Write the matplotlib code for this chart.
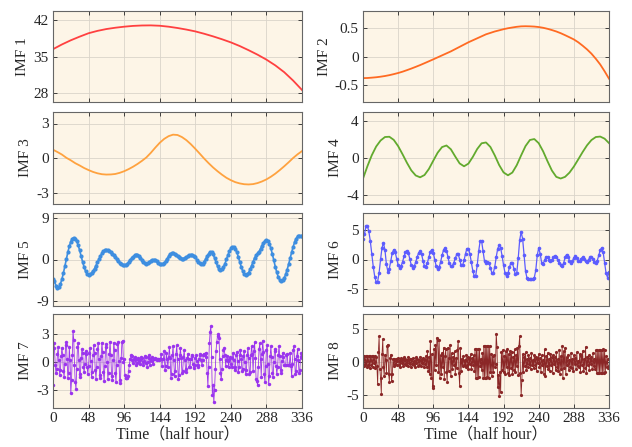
import numpy as np
import matplotlib
matplotlib.use("Agg")
import matplotlib.pyplot as plt

# ---------------- data ----------------
t12 = list(range(0, 337, 12))
imf1 = [36.4, 37.3, 38.1, 38.8, 39.45, 39.9, 40.25, 40.5, 40.7, 40.85, 40.93, 40.95,
        40.88, 40.7, 40.45, 40.15, 39.8, 39.35, 38.85, 38.3, 37.7, 37.0, 36.2, 35.35,
        34.4, 33.3, 32.0, 30.4, 28.6]

t6 = list(range(0, 337, 6))
imf2 = [-0.38, -0.378, -0.372, -0.365, -0.355, -0.343, -0.328, -0.31, -0.29, -0.267,
        -0.24, -0.212, -0.182, -0.151, -0.118, -0.084, -0.05, -0.015, 0.02, 0.055,
        0.09, 0.13, 0.17, 0.21, 0.25, 0.285, 0.32, 0.355, 0.39, 0.415,
        0.44, 0.46, 0.48, 0.497, 0.51, 0.522, 0.53, 0.532, 0.53, 0.526,
        0.518, 0.505, 0.487, 0.465, 0.44, 0.41, 0.375, 0.338, 0.30, 0.25,
        0.19, 0.125, 0.05, -0.04, -0.14, -0.26, -0.39]
imf3 = [0.72, 0.52, 0.3, 0.02, -0.2, -0.45, -0.65, -0.87, -1.05, -1.21,
        -1.33, -1.41, -1.44, -1.43, -1.39, -1.29, -1.15, -0.97, -0.76, -0.52,
        -0.25, 0.05, 0.45, 0.9, 1.32, 1.66, 1.9, 2.03, 2.0, 1.82,
        1.55, 1.2, 0.8, 0.38, -0.05, -0.45, -0.82, -1.15, -1.45, -1.72,
        -1.93, -2.1, -2.21, -2.28, -2.3, -2.27, -2.18, -2.04, -1.86, -1.63,
        -1.36, -1.05, -0.72, -0.37, 0.0, 0.32, 0.6]
imf4 = [-2.24, -0.9, 0.3, 1.25, 1.9, 2.28, 2.31, 1.97, 1.29, 0.41, -0.52, -1.35,
        -1.90, -2.1, -1.85, -1.19, -0.29, 0.58, 1.19, 1.36, 0.95, 0.16, -0.59, -0.9,
        -0.61, 0.12, 0.98, 1.6, 1.69, 1.20, 0.28, -0.77, -1.57, -1.88, -1.58, -0.78,
        0.29, 1.30, 1.96, 2.06, 1.61, 0.73, -0.35, -1.36, -2.05, -2.23, -2.05, -1.59,
        -0.93, -0.15, 0.65, 1.38, 1.95, 2.28, 2.33, 2.1, 1.62]

t2 = list(range(0, 337, 2))
imf5 = [-4.2, -4.68, -5.63, -6.1, -5.88, -5.26, -4.23, -2.94, -1.46, 0.06, 1.54, 2.83,
        3.86, 4.48, 4.7, 4.51, 3.94, 3.05, 1.94, 0.7, -0.54, -1.65, -2.54, -3.11,
        -3.3, -3.21, -2.94, -2.51, -1.95, -1.30, -0.6, 0.10, 0.75, 1.31, 1.74, 2.01,
        2.1, 2.04, 1.88, 1.62, 1.28, 0.88, 0.45, 0.02, -0.38, -0.72, -0.98, -1.14,
        -1.2, -1.12, -0.91, -0.58, -0.17, 0.24, 0.61, 0.89, 1.04, 1.03, 0.82, 0.43,
        -0.04, -0.47, -0.79, -0.9, -0.79, -0.53, -0.22, -0.03, -0.02, -0.15, -0.39, -0.67,
        -0.91, -1.04, -1.03, -0.79, -0.37, 0.17, 0.71, 1.13, 1.37, 1.38, 1.25, 1.01,
        0.73, 0.46, 0.27, 0.2, 0.21, 0.33, 0.52, 0.74, 0.93, 1.06, 1.03, 0.83,
        0.47, 0.0, -0.47, -0.83, -1.06, -0.91, -0.47, 0.11, 0.75, 1.25, 1.56, 1.54,
        1.11, 0.34, -0.58, -1.44, -2.08, -2.3, -2.13, -1.64, -0.90, 0.02, 0.94, 1.78,
        2.41, 2.75, 2.75, 2.35, 1.58, 0.59, -0.53, -1.59, -2.51, -3.09, -3.3, -3.2,
        -2.8, -2.1, -1.3, -0.5, 0.3, 0.9, 1.3, 1.7, 2.3, 3.0, 3.6, 4.0,
        4.2, 3.99, 3.36, 2.39, 1.16, -0.2, -1.56, -2.79, -3.76, -4.39, -4.6, -4.43,
        -3.95, -3.18, -2.16, -0.99, 0.28, 1.54, 2.71, 3.73, 4.5, 4.98, 5.15, 5.12,
        5.0]
imf6 = [3.6, 4.39, 5.68, 5.78, 4.83, 3.13, 0.95, -1.23, -2.93, -3.88, -3.79, -2.29,
        0.02, 2.05, 2.85, 1.61, -0.86, -2.1, -1.55, -0.2, 1.15, 1.7, 1.24, 0.14,
        -0.97, -1.43, -1.15, -0.41, 0.52, 1.26, 1.54, 1.11, 0.06, -1.0, -1.43, -1.16,
        -0.44, 0.44, 1.16, 1.43, 0.92, -0.24, -1.16, -1.21, -0.55, 0.46, 1.35, 1.7,
        1.2, 0.0, -1.2, -1.7, -1.35, -0.42, 0.72, 1.65, 2.0, 1.54, 0.43, -0.68,
        -1.14, -1.07, -0.57, 0.2, 0.87, 0.99, 0.0, -0.99, -1.02, -0.17, 1.03, 1.88,
        1.88, 0.97, -0.5, -1.97, -2.88, -2.76, -1.02, 1.44, 3.18, 3.15, 1.41, -0.33,
        -0.55, -0.42, -0.54, -1.43, -2.31, -2.30, -1.23, 0.43, 1.88, 2.45, 1.95, 0.62,
        -1.02, -2.35, -2.85, -2.39, -1.36, -0.52, -0.55, -1.55, -2.55, -2.33, 0.19, 3.34,
        4.74, 3.58, 0.77, -2.04, -3.2, -3.3, -3.38, -3.4, -3.3, -3.1, -1.83, 0.73,
        2.0, 1.01, -0.59, -0.76, -0.15, 0.47, 0.49, 0.0, -0.3, -0.07, 0.38, 0.6,
        0.43, 0.0, -0.54, -0.97, -1.14, -0.64, 0.36, 0.86, 0.5, -0.21, -0.57, -0.29,
        0.29, 0.57, 0.27, -0.22, -0.23, 0.16, 0.4, 0.12, -0.32, -0.35, 0.0, 0.35,
        0.35, 0.02, -0.39, -0.57, -0.19, 0.72, 1.62, 2.0, 1.26, -0.55, -2.36, -3.1,
        -2.2]

imf7 = [-2.5, 2.1, 1.5, -0.3, -1.2, -0.8, 0.9, 1.6, 0.2, -1.4, -0.9, 0.6,
        1.5, 0.8, -1.0, -1.6, -0.2, 1.8, 2.2, 0.3, -1.7, -1.2, 1.6, 0.2,
        -3.4, -2.0, 0.8, 3.35, 2.4, -0.3, -2.2, -2.9, -0.8, 1.6, 2.1, 0.2,
        -1.6, -1.3, 0.4, 1.4, 1.0, -0.5, -1.1, -0.2, 1.2, 0.9, -0.6, -1.3,
        -0.4, 1.0, 1.5, 0.1, -1.6, -1.1, 0.7, 1.8, 1.0, -0.9, -1.8, -0.5,
        1.4, 2.0, 0.3, -1.7, -1.4, 0.6, 2.1, 1.1, -1.1, -2.1, -0.4, 1.6,
        1.9, 0.0, -1.8, -1.2, 0.9, 2.2, 0.7, -1.5, -2.0, 0.2, 2.1, 1.3,
        -1.2, -2.2, -0.3, 1.9, 2.2, 0.1, -2.0, -2.3, 0.4, 2.2, 2.3, 0.0,
        0.3, -1.4, -1.7, -1.75, -1.7, -1.5, -1.0, -0.3, 0.3, 0.7, 0.6, 0.2,
        -0.1, 0.3, 0.5, 0.2, -0.3, -0.1, 0.3, 0.4, 0.1, -0.2, 0.2, 0.5,
        0.4, 0.0, -0.3, 0.1, 0.6, 0.5, -0.1, -0.5, 0.0, 0.7, 0.4, -0.3,
        0.2, 0.5, 0.1, -0.2, 0.3, 0.4, 0.3, 0.3, 0.2, 0.3, 0.3, 0.25,
        0.3, 0.3, 0.9, -0.4, 0.3, 0.3, 1.2, -0.9, -0.4, 1.0, 0.3, -0.6,
        0.5, 1.6, 0.4, -1.7, -1.3, 0.8, 1.7, 0.2, -1.5, -1.0, 0.9, 1.8,
        0.3, -1.8, -1.4, 0.7, 1.5, 0.4, -1.2, -1.0, 0.5, 1.3, 0.2, -1.1,
        -0.8, 0.4, 0.9, 0.3, -0.6, -0.5, 0.3, 0.8, 0.6, -0.2, -0.7, -0.3,
        0.4, 0.7, 0.1, -0.5, -0.3, 0.3, 0.9, 0.7, 0.2, -0.3, 0.2, 0.8,
        0.9, 0.7, 1.0, 0.5, -1.2, -2.65, -0.5, 2.0, 3.3, 3.9, 0.5, -3.56,
        -2.5, -4.4, -3.0, -0.8, 1.2, 2.2, 2.8, 3.0, 2.6, 0.3, -1.2, -1.9,
        -0.8, 0.6, 1.3, 1.5, 0.7, -0.4, 0.2, 0.6, 0.1, -0.5, 0.3, 0.5,
        -0.2, -0.6, 0.4, 1.0, 0.2, -0.9, -0.5, 0.7, 1.1, 0.1, -1.1, -0.6,
        0.8, 1.3, 0.3, -1.0, -0.8, 0.6, 1.2, 0.0, -1.3, -0.9, 0.7, 1.5,
        0.4, -1.3, -1.1, 0.7, 1.7, 0.9, -1.0, 1.2, 2.15, 0.4, -1.8, -2.1,
        -2.5, -0.6, 1.4, 2.0, 0.3, -1.6, 0.9, 2.3, 1.1, -1.3, -2.2, -0.4,
        1.3, 1.8, -0.2, -2.4, -1.5, 0.6, 1.7, 0.5, -1.2, -1.6, 0.0, 1.4,
        1.2, -0.4, -1.3, -0.6, 0.8, 1.7, 0.6, -0.9, -1.2, 0.1, 1.0, 0.5,
        -0.3, -0.3, -0.3, 0.8, 0.9, -0.3, -0.3, -0.3, 1.0, -0.4, -1.5, -0.2,
        1.3, 1.7, 0.3, -1.3, -1.0, 0.6, 1.4, 0.2, -1.2, -0.9, 0.5, 1.0,
        0.4]

imf8 = [0.9, -0.6, 0.9, -0.3, 0.9, -0.8, 0.9, -0.5, 0.9, -0.9, 0.9, -0.4,
        0.9, -0.7, 0.9, -0.2, 0.9, -0.9, 0.8, -0.6, -3.4, 1.5, 3.9, -1.0,
        -2.5, -4.8, 1.2, 3.5, -0.8, -2.2, 1.1, 0.3, -1.6, 2.5, 2.65, -1.8,
        -3.0, 0.6, 1.1, -2.95, -1.9, 0.5, -0.6, 0.4, -0.3, 0.5, -0.5, 0.2,
        0.6, -0.4, 0.3, -0.7, 0.6, -0.2, 0.4, -0.6, 0.7, -0.3, 0.5, -0.5,
        0.3, -0.6, 0.8, -0.2, 0.5, -0.7, 0.4, -0.3, 0.6, -0.5, 0.2, -0.7,
        0.7, -0.1, 0.5, -0.6, 0.3, -0.4, 0.8, -0.6, 0.4, -0.2, 0.6, -0.8,
        0.5, -0.3, 0.9, -0.8, 1.6, -1.4, 0.8, -1.9, 3.2, -2.5, 1.2, -4.0,
        -3.6, 1.9, -1.2, 2.6, -0.5, 3.7, 3.4, -1.5, 3.3, -2.4, 1.0, -1.9,
        1.4, -0.8, 2.2, -2.6, 0.9, 1.9, -1.5, -3.0, 2.2, -1.4, 0.6, 2.65,
        -2.2, 1.3, -1.0, 0.8, -0.4, 1.6, -1.9, 0.6, -0.9, 1.8, 3.2, -1.6,
        -3.7, 2.2, -1.3, 0.5, -0.6, 0.9, -0.4, 0.3, -0.8, 1.1, -0.5, 0.7,
        -1.0, 0.4, -0.3, 1.2, -1.1, 0.6, -0.5, 1.0, -1.4, 2.0, -2.4, 2.0,
        -2.45, 2.0, -2.3, 2.0, -0.6, 0.5, -1.2, 1.4, -2.5, 2.5, -2.4, 2.5,
        -2.4, 2.5, -2.3, 2.4, -2.5, 2.4, -1.5, 1.2, -2.2, 0.9, -1.5, 1.0,
        -0.8, -0.3, 4.3, 2.3, -3.8, -2.0, -5.25, -1.5, -4.6, 1.5, -1.2, 1.8,
        -1.5, 0.9, -1.8, 1.6, -0.7, 1.9, -1.6, 1.2, -2.0, 1.7, -0.9, 1.5,
        -1.8, 0.8, -1.2, 1.9, -1.5, 1.1, -0.6, 2.2, -2.0, 2.5, 3.9, -1.6,
        -5.0, -2.8, 1.2, -1.5, 0.8, -0.6, 1.5, -1.2, 0.4, -0.8, 1.0, -0.3,
        0.6, -1.1, 1.3, -0.5, 0.3, -0.9, 1.1, -0.4, 0.8, -1.3, 0.5, -0.2,
        1.2, -0.7, 0.6, -1.5, 1.0, -0.4, 0.3, -1.8, 1.9, -2.2, 0.9, -0.6,
        1.4, -1.0, 0.5, -1.3, 1.2, -0.5, 0.8, -1.6, 1.1, -0.3, 0.7, -1.2,
        1.5, -0.8, 0.4, -1.4, 1.8, -1.9, 0.9, -1.1, 2.4, -2.45, 1.6, -0.9,
        2.2, -1.8, 0.7, -0.5, 1.1, -1.2, 0.3, -0.7, 1.3, -0.9, 0.5, -1.4,
        1.0, -0.3, 0.6, -1.1, 1.5, -0.6, 0.2, -0.8, 1.2, -1.5, 0.9, -0.4,
        1.7, -1.3, 0.4, -0.9, 2.3, -1.6, 0.8, -0.5, 1.0, -1.2, 0.6, -0.3,
        0.8, -1.0, 1.3, -0.6, 0.4, -1.1, 1.8, -1.6, 1.8, -1.7, 1.8, -1.6,
        1.8, -1.7, 1.8, -1.6, 1.9, -1.7, 1.8, -1.5, 0.9, -0.8, 0.5, -0.9,
        -0.6]

xticks = [0, 48, 96, 144, 192, 240, 288, 336]
ylabels = ["IMF 1", "IMF 2", "IMF 3", "IMF 4", "IMF 5", "IMF 6", "IMF 7", "IMF 8"]

# ---------------- style ----------------
plt.rcParams['font.family'] = ['Liberation Serif', 'Noto Sans CJK SC', 'DejaVu Sans']

fig = plt.figure(figsize=(6.32, 4.47), dpi=100)

lefts = [53 / 632, 363 / 632]
widths = [249 / 632, 246 / 632]
rows_px = [(11, 102), (112, 204), (213, 306), (314, 408)]

series = [
    (t12, imf1, dict(color='#FF4040', lw=1.3), (26.3, 43.7), [28, 35, 42], ['28', '35', '42']),
    (t6, imf2, dict(color='#FF6A22', lw=1.3), (-0.8, 0.8), [-0.5, 0, 0.5], ['-0.5', '0', '0.5']),
    (t6, imf3, dict(color='#FFA23F', lw=1.3), (-4, 4), [-3, 0, 3], ['-3', '0', '3']),
    (t6, imf4, dict(color='#62AA2E', lw=1.3), (-5, 5), [-4, 0, 4], ['-4', '0', '4']),
    (t2, imf5, dict(color='#3E8EE0', lw=1.2, marker='o', ms=3.0, mew=0), (-10, 10), [-9, 0, 9], ['-9', '0', '9']),
    (t2, imf6, dict(color='#5C5CFF', lw=0.9, marker='o', ms=2.6, mew=0), (-8, 8), [-5, 0, 5], ['-5', '0', '5']),
    (None, imf7, dict(color='#9A34EE', lw=0.6, marker='o', ms=2.5, mew=0), (-5, 5.2), [-3, 0, 3], ['-3', '0', '3']),
    (None, imf8, dict(color='#8B2727', lw=0.6, marker='o', ms=2.3, mew=0), (-7, 7.3), [-5, 0, 5], ['-5', '0', '5']),
]

for i, (tx, vals, kw, ylim, yt, ytl) in enumerate(series):
    r, c = divmod(i, 2)
    top, bot = rows_px[r]
    ax = fig.add_axes([lefts[c], 1 - bot / 447, widths[c], (bot - top) / 447])
    ax.set_facecolor('#FDF5E7')
    x = tx if tx is not None else list(range(len(vals)))
    ax.plot(x, vals, **kw)
    ax.set_xlim(0, 336)
    ax.set_ylim(*ylim)
    ax.set_xticks(xticks)
    ax.set_yticks(yt)
    ax.set_yticklabels(ytl)
    ax.grid(True, color='#DAD4CA', lw=0.6, ls='-')
    ax.set_axisbelow(True)
    ax.tick_params(direction='in', length=3, width=0.6, top=True, right=True,
                   labelsize=11, colors='#262626', pad=3)
    for s in ax.spines.values():
        s.set_color('#666666')
        s.set_linewidth(0.8)
    ax.set_ylabel(ylabels[i], fontsize=11, color='#262626', labelpad=3)
    if r == 3:
        ax.set_xticklabels([str(v) for v in xticks])
        ax.set_xlabel('Time（half hour）', fontsize=11.5, color='#262626', labelpad=2)
    else:
        ax.set_xticklabels([])

fig.savefig('out.png', dpi=100)
